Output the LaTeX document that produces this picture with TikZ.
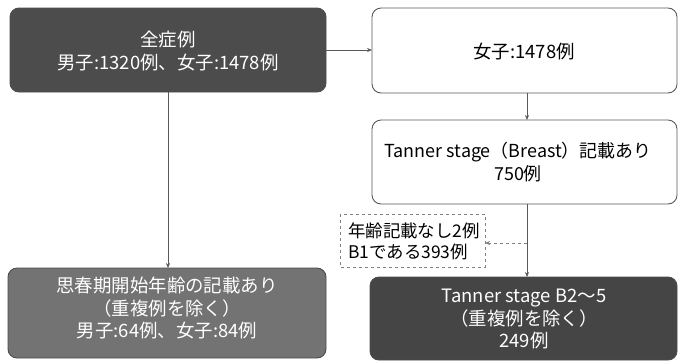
\documentclass[tikz,border=0pt]{standalone}
\usepackage{fontspec}
\setmainfont{Noto Sans CJK JP}
\usetikzlibrary{arrows.meta}
\begin{document}
\begin{tikzpicture}[x=1bp,y=-1bp,
  box/.style={rounded corners=9bp, draw=#1, line width=0.9bp},
  txt/.style={align=center, font=\fontsize{18.5}{23}\selectfont, inner sep=0pt},
  arr/.style={-{Stealth[length=5bp,width=4bp]}, draw=gray!70!black, line width=0.6bp}]
\useasboundingbox (0,0) rectangle (678,363);
% boxes
\draw[box=gray!60!black, fill=black!70] (10,8) rectangle (326,92);
\node[txt, text=white] (A) at (168,51) {全症例\\男子:1320例、女子:1478例};
\coordinate (Ar) at (326,50); \coordinate (Ab) at (168,92);
\draw[box=gray!70!black, fill=white] (372,8) rectangle (677,93);
\node[txt] (B) at (524,52) {女子:1478例};
\coordinate (Bl) at (372,50); \coordinate (Bb) at (527,93);
\draw[box=gray!70!black, fill=white] (372,120) rectangle (677,204);
\node[txt, font=\fontsize{18}{23}\selectfont] (C) at (518,162) {Tanner stage（Breast）記載あり\\750例};
\coordinate (Ct) at (527,120); \coordinate (Cb) at (527,204);
\draw[gray, dashed, line width=0.7bp, fill=white] (340,214) rectangle (485,267);
\node[align=left, font=\fontsize{17.5}{21}\selectfont, inner sep=0pt, anchor=west] (D) at (348,241) {年齢記載なし2例\\B1である393例};
\coordinate (Dr) at (485,243); \coordinate (Dv) at (527,243);
\draw[box=gray!60!black, fill=black!73] (370,277) rectangle (677,360);
\node[txt, text=white] (E) at (524,319) {Tanner stage B2～5\\（重複例を除く）\\249例};
\coordinate (Et) at (527,277);
\draw[box=gray!60!black, fill=black!55] (8,268) rectangle (326,358);
\node[txt, text=white] (F) at (167,308) {思春期開始年齢の記載あり\\（重複例を除く）\\男子:64例、女子:84例};
\coordinate (Ft) at (168,268);
% connectors
\draw[arr] (Ar) -- (Bl);
\draw[arr] (Ab) -- (Ft);
\draw[arr] (Bb) -- (Ct);
\draw[arr] (Cb) -- (Et);
\draw[-{Stealth[length=5bp,width=4bp]}, gray, dashed, line width=0.6bp] (Dv) -- (Dr);
\end{tikzpicture}
\end{document}
